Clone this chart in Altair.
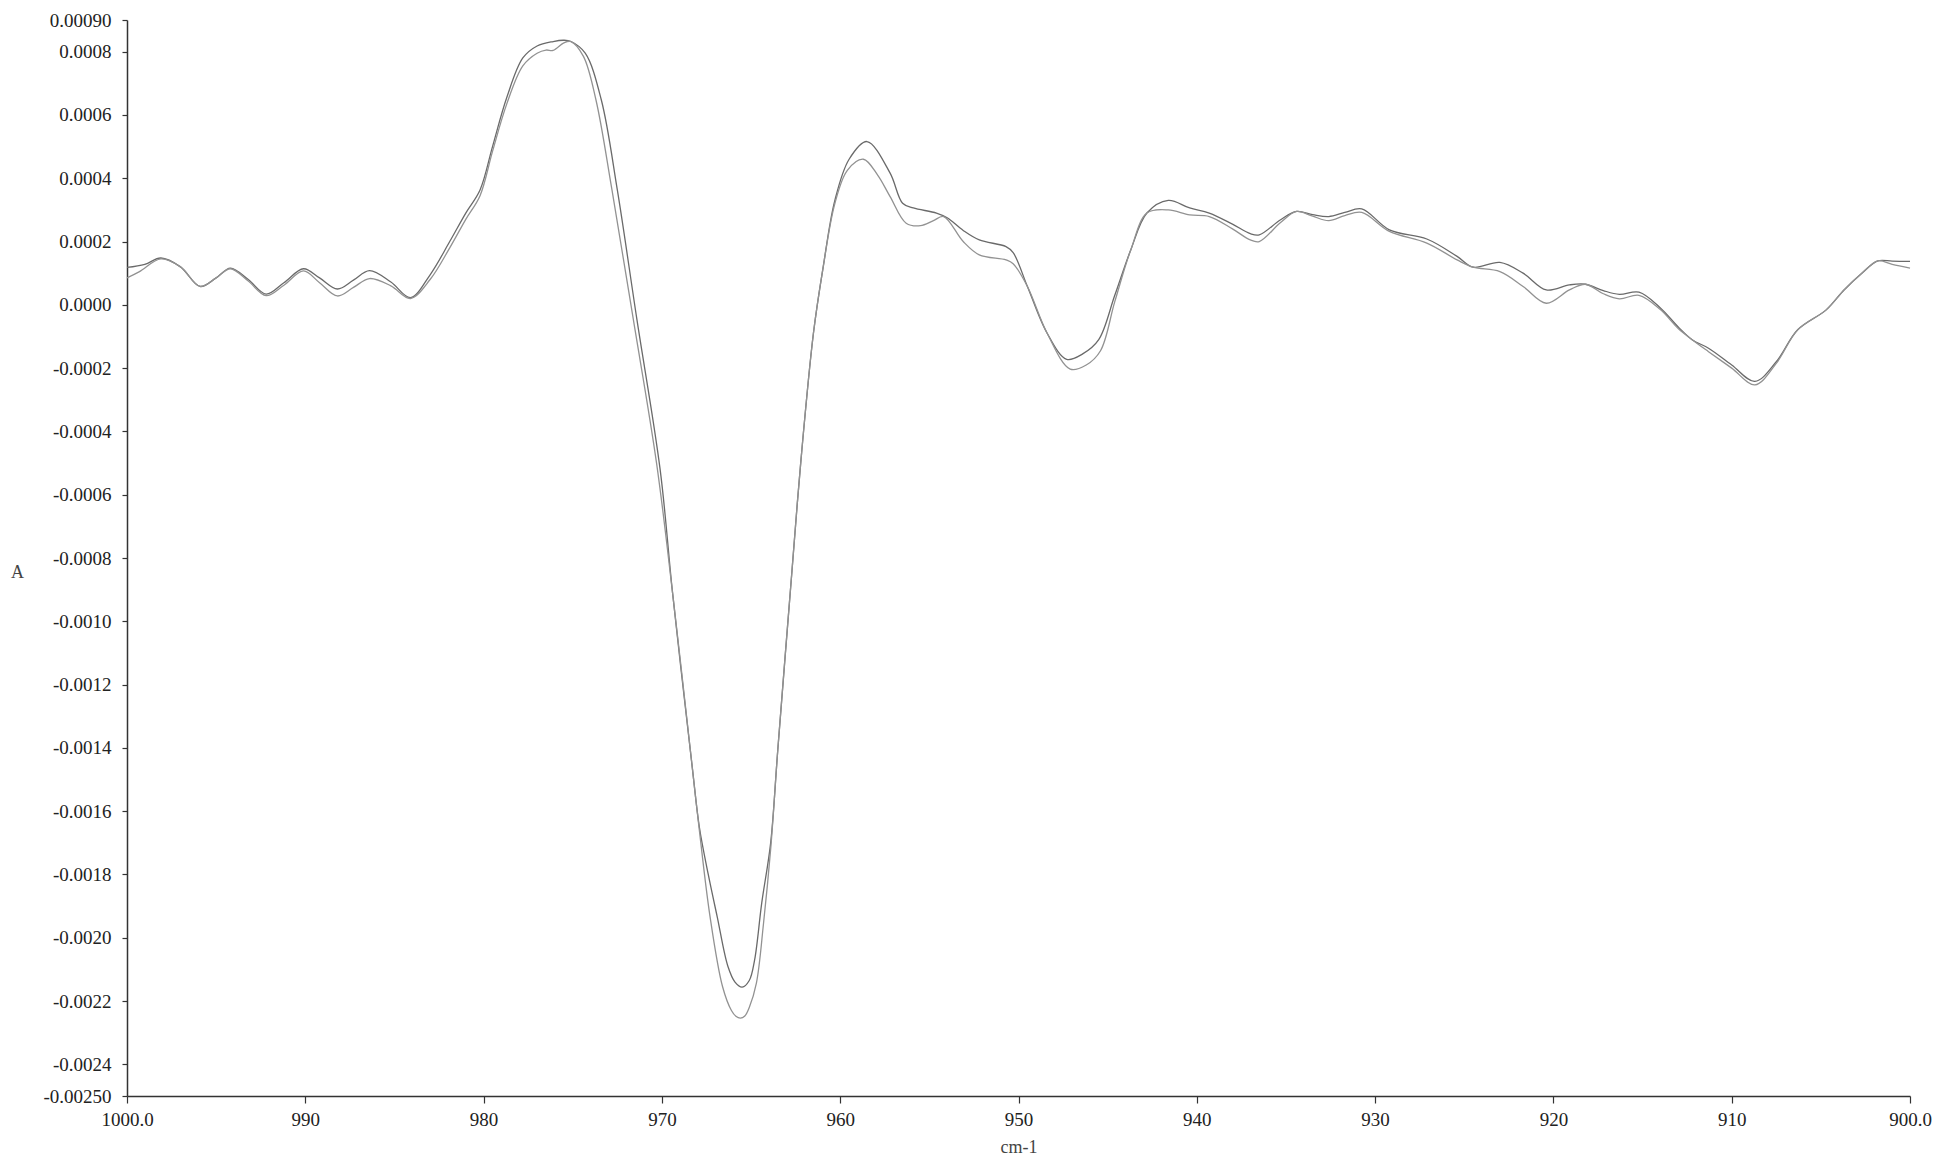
import altair as alt
import pandas as pd

# ---- data (absorbance in units of 1e-4) ----
wn_a = [1000.0, 999.0, 998.1, 997.0, 995.9, 995.0, 994.2, 993.2, 992.2, 991.2,
        990.1, 989.2, 988.2, 987.3, 986.4, 985.2, 984.1, 983.0, 981.9, 981.0,
        980.2, 979.5, 978.7, 977.8, 977.0, 976.1, 975.5, 975.1, 974.3, 973.4,
        972.5, 971.4, 970.1, 969.4, 968.3, 967.9, 967.4, 966.9, 966.3, 965.9,
        965.5, 965.1, 964.8, 964.4, 963.9, 963.5, 962.7, 962.2, 961.5, 960.95,
        960.3, 959.5, 958.5, 957.2, 956.5, 955.9, 954.6, 954.0, 953.1, 952.2,
        950.7, 950.3, 949.5, 948.4, 947.3, 946.4, 945.5, 944.6, 943.7, 942.8,
        941.6, 940.4, 939.3, 938.0, 937.0, 936.5, 935.3, 934.4, 933.5, 932.6,
        931.7, 930.75, 929.2, 927.1, 925.4, 924.5, 923.0, 921.7, 920.4, 919.1,
        918.2, 917.2, 916.3, 915.2, 914.0, 913.0, 912.2, 911.3, 910.0, 908.7,
        907.5, 906.3, 904.7, 903.7, 902.7, 901.8, 901.0, 900.0]
abs_a = [1.18, 1.28, 1.48, 1.20, 0.58, 0.85, 1.16, 0.80, 0.34, 0.70,
         1.14, 0.85, 0.50, 0.78, 1.08, 0.72, 0.23, 0.95, 2.00, 2.90,
         3.63, 5.00, 6.55, 7.80, 8.18, 8.32, 8.36, 8.32, 7.95, 6.48,
         3.63, -0.47, -5.20, -9.11, -14.6, -16.5, -18.0, -19.33, -20.9, -21.4,
         -21.56, -21.35, -20.7, -18.9, -17.0, -14.06, -8.37, -4.9, -0.89, 1.21,
         3.3, 4.6, 5.16, 4.16, 3.21, 3.06, 2.90, 2.75, 2.35, 2.05,
         1.84, 1.65, 0.58, -0.89, -1.72, -1.55, -1.10, 0.30, 1.74, 2.90,
         3.30, 3.06, 2.90, 2.55, 2.25, 2.21, 2.69, 2.95, 2.85, 2.79,
         2.92, 3.03, 2.37, 2.08, 1.53, 1.19, 1.34, 1.00, 0.47, 0.63,
         0.65, 0.45, 0.33, 0.40, -0.10, -0.70, -1.11, -1.37, -1.90, -2.42,
         -1.80, -0.79, -0.16, 0.47, 1.00, 1.39, 1.38, 1.37]

wn_b = [1000.0, 999.3, 998.1, 997.0, 995.9, 995.0, 994.2, 993.2, 992.2, 991.2,
        990.1, 989.2, 988.2, 987.3, 986.4, 985.2, 984.1, 983.0, 981.9, 981.0,
        980.2, 979.5, 978.7, 977.8, 977.0, 976.5, 976.1, 975.5, 975.1, 974.4,
        973.7, 972.8, 971.6, 970.3, 969.4, 968.3, 967.9, 967.3, 966.6, 966.1,
        965.85, 965.6, 965.35, 965.1, 964.7, 964.3, 963.9, 963.5, 962.7, 962.2,
        961.5, 960.95, 960.3, 959.6, 958.7, 957.9, 957.2, 956.3, 955.5, 954.8,
        954.2, 953.1, 952.2, 950.7, 950.3, 949.5, 948.4, 947.1, 946.2, 945.4,
        944.6, 943.7, 942.8, 941.6, 940.4, 939.3, 938.0, 937.0, 936.5, 935.3,
        934.4, 933.5, 932.6, 931.7, 930.75, 929.2, 927.1, 925.4, 924.5, 923.0,
        921.7, 920.4, 919.1, 918.2, 917.2, 916.3, 915.2, 914.0, 913.0, 912.2,
        911.3, 910.0, 908.7, 907.5, 906.3, 904.7, 903.7, 902.7, 901.8, 901.0,
        900.0]
abs_b = [0.85, 1.05, 1.45, 1.20, 0.58, 0.85, 1.14, 0.75, 0.29, 0.62,
         1.07, 0.70, 0.28, 0.55, 0.83, 0.60, 0.20, 0.80, 1.80, 2.70,
         3.45, 4.85, 6.35, 7.55, 7.95, 8.05, 8.04, 8.28, 8.32, 7.85,
         6.48, 3.63, -0.47, -5.0, -9.11, -14.6, -16.6, -19.33, -21.54, -22.3,
         -22.48, -22.54, -22.47, -22.2, -21.43, -19.54, -17.2, -14.06, -8.37, -4.9,
         -0.89, 1.21, 3.2, 4.25, 4.60, 4.10, 3.42, 2.58, 2.50, 2.65,
         2.79, 2.00, 1.58, 1.42, 1.30, 0.58, -0.89, -2.03, -1.90, -1.45,
         0.10, 1.74, 2.90, 3.00, 2.84, 2.79, 2.40, 2.05, 2.00, 2.60,
         2.95, 2.80, 2.66, 2.82, 2.92, 2.32, 1.95, 1.42, 1.19, 1.05,
         0.58, 0.05, 0.47, 0.65, 0.35, 0.19, 0.30, -0.15, -0.75, -1.11,
         -1.48, -2.00, -2.53, -1.85, -0.79, -0.16, 0.47, 1.00, 1.39, 1.28,
         1.16]

x_ticks = [1000, 990, 980, 970, 960, 950, 940, 930, 920, 910, 900]
y_ticks = [-0.0025, -0.0024, -0.0022, -0.0020, -0.0018, -0.0016, -0.0014,
           -0.0012, -0.0010, -0.0008, -0.0006, -0.0004, -0.0002, 0.0,
           0.0002, 0.0004, 0.0006, 0.0008, 0.0009]

rows = []
for w, a in zip(wn_a, abs_a):
    rows.append({"wn": w, "A": a * 1e-4, "series": "s1"})
for w, a in zip(wn_b, abs_b):
    rows.append({"wn": w, "A": a * 1e-4, "series": "s2"})
df = pd.DataFrame(rows)

FONT = "Liberation Serif"

x_label_expr = ("(datum.value == 1000 || datum.value == 900) ? "
                "format(datum.value, '.1f') : format(datum.value, 'd')")
y_label_expr = ("(datum.value < 0 ? '-' : '') + format(abs(datum.value), "
                "(datum.value < -0.00245 || datum.value > 0.00085) ? '.5f' : '.4f')")

chart = alt.Chart(df).mark_line(interpolate="catmull-rom", strokeWidth=1.3).encode(
    x=alt.X("wn:Q",
            scale=alt.Scale(domain=[900, 1000], reverse=True, nice=False, zero=False),
            axis=alt.Axis(values=x_ticks, labelExpr=x_label_expr, title="cm-1",
                          grid=False, tickSize=7, labelPadding=7, labelFlush=False,
                          labelOverlap=False, titlePadding=9)),
    y=alt.Y("A:Q",
            scale=alt.Scale(domain=[-0.0025, 0.0009], nice=False, zero=False),
            axis=alt.Axis(values=y_ticks, labelExpr=y_label_expr, title="A",
                          grid=False, tickSize=5, labelPadding=11, labelFlush=False,
                          labelOverlap=False, titleAngle=0, titleX=-110, titleY=552,
                          titleAlign="center", titleBaseline="middle")),
    color=alt.Color("series:N", scale=alt.Scale(domain=["s1", "s2"],
                                                 range=["#6a6a6a", "#929292"]),
                    legend=None),
    order=alt.Order("wn:Q", sort="descending"),
).properties(
    width=1783,
    height=1076,
    autosize=alt.AutoSizeParams(type="none"),
    padding={"left": 119, "top": 12, "right": 30, "bottom": 66},
).configure_view(
    strokeWidth=0
).configure_axis(
    labelFont=FONT,
    titleFont=FONT,
    labelFontSize=19,
    titleFontSize=18,
    titleFontWeight="normal",
    labelColor="#222222",
    titleColor="#444444",
    domainColor="#333333",
    tickColor="#333333",
    domainWidth=1.5,
    tickWidth=1.2,
)

chart.save("out.html", embed_options={"renderer": "svg", "actions": False})
